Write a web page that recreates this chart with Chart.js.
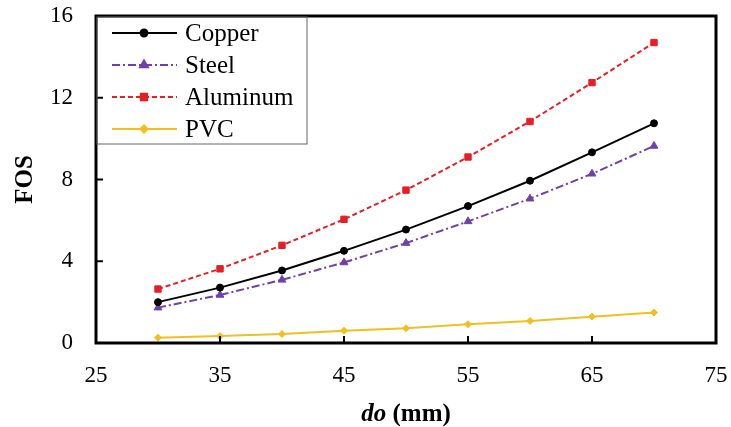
<!DOCTYPE html>
<html>
<head>
<meta charset="utf-8">
<script src="https://cdn.jsdelivr.net/npm/chart.js@4/dist/chart.umd.min.js"></script>
<style>
  body { margin: 0; background: #fff; }
</style>
</head>
<body>
<canvas id="fosChart" width="731" height="427"></canvas>
<script>
// diameter do (mm) and FOS
const diameters = [30, 35, 40, 45, 50, 55, 60, 65, 70];
const copper   = [2.0, 2.71, 3.55, 4.51, 5.55, 6.7, 7.94, 9.33, 10.75];
const steel    = [1.73, 2.35, 3.09, 3.94, 4.89, 5.95, 7.06, 8.28, 9.64];
const aluminum = [2.64, 3.63, 4.78, 6.05, 7.48, 9.1, 10.84, 12.74, 14.7];
const pvc      = [0.26, 0.34, 0.44, 0.6, 0.72, 0.92, 1.08, 1.29, 1.49];
const xTicks = [25, 35, 45, 55, 65, 75];
const yTicks = [0, 4, 8, 12, 16];

const FONT = "'Liberation Serif', 'Times New Roman', serif";

function pts(vals){
  return diameters.map((d, i) => ({ x: d, y: vals[i] }));
}

function series(label, vals, color, style, radius, dash){
  return {
    label, data: pts(vals),
    borderColor: color, backgroundColor: color,
    borderWidth: 2, borderDash: dash,
    pointStyle: style, pointRadius: radius, pointBorderWidth: 1,
    tension: 0
  };
}

// frame + inward tick marks
const framePlugin = {
  id: 'frame',
  afterDatasetsDraw(chart){
    const { ctx, chartArea: a, scales } = chart;
    ctx.save();
    ctx.strokeStyle = '#000';
    ctx.lineWidth = 2;
    xTicks.slice(1, -1).forEach(v => {
      const px = scales.x.getPixelForValue(v);
      ctx.beginPath(); ctx.moveTo(px, a.bottom); ctx.lineTo(px, a.bottom - 7); ctx.stroke();
    });
    yTicks.slice(1, -1).forEach(v => {
      const py = scales.y.getPixelForValue(v);
      ctx.beginPath(); ctx.moveTo(a.left, py); ctx.lineTo(a.left + 7, py); ctx.stroke();
    });
    ctx.lineWidth = 3;
    ctx.strokeRect(a.left, a.top, a.right - a.left, a.bottom - a.top);
    ctx.restore();
  }
};

// boxed legend in the top-left corner of the plot
const legendPlugin = {
  id: 'boxLegend',
  afterDraw(chart){
    const { ctx, chartArea: a } = chart;
    ctx.save();
    ctx.strokeStyle = '#666';
    ctx.lineWidth = 1;
    ctx.strokeRect(a.left + 1, a.top + 1, 210, 127);
    ctx.font = '25px ' + FONT;
    ctx.textBaseline = 'middle';
    ctx.fillStyle = '#000';
    chart.data.datasets.forEach((ds, i) => {
      const y = a.top + 17 + i * 32;
      ctx.strokeStyle = ds.borderColor;
      ctx.lineWidth = 2;
      ctx.setLineDash(ds.borderDash || []);
      ctx.beginPath(); ctx.moveTo(a.left + 16, y); ctx.lineTo(a.left + 81, y); ctx.stroke();
      ctx.setLineDash([]);
      ctx.fillStyle = ds.backgroundColor;
      Chart.helpers.drawPoint(ctx, { pointStyle: ds.pointStyle, radius: ds.pointRadius, borderWidth: 1, rotation: 0 }, a.left + 48, y);
      ctx.fillStyle = '#000';
      ctx.fillText(ds.label, a.left + 89, y + 1);
    });
    ctx.restore();
  }
};

// x axis title with italic "do"
const xTitlePlugin = {
  id: 'xTitle',
  afterDraw(chart){
    const { ctx, chartArea: a } = chart;
    ctx.save();
    ctx.fillStyle = '#000';
    ctx.textBaseline = 'alphabetic';
    const f1 = 'italic bold 25px ' + FONT, f2 = 'bold 25px ' + FONT;
    ctx.font = f1; const w1 = ctx.measureText('do').width;
    ctx.font = f2; const w2 = ctx.measureText(' (mm)').width;
    const x0 = (a.left + a.right) / 2 - (w1 + w2) / 2;
    ctx.font = f1; ctx.fillText('do', x0, 421);
    ctx.font = f2; ctx.fillText(' (mm)', x0 + w1, 421);
    ctx.restore();
  }
};

new Chart(document.getElementById('fosChart'), {
  type: 'line',
  data: {
    datasets: [
      series('Copper', copper, '#000000', 'circle', 3.5, []),
      series('Steel', steel, '#7040a8', 'triangle', 4.5, [8, 3, 2, 3]),
      series('Aluminum', aluminum, '#e61e25', 'rect', 4.5, [5, 3]),
      series('PVC', pvc, '#f0bf22', 'rectRot', 3.5, [])
    ]
  },
  options: {
    responsive: false,
    animation: false,
    layout: { padding: { top: 16, right: 15, left: 0, bottom: 0 } },
    plugins: { legend: { display: false }, tooltip: { enabled: false } },
    scales: {
      x: {
        type: 'linear', min: 25, max: 75,
        afterBuildTicks: s => { s.ticks = xTicks.map(v => ({ value: v })); },
        afterFit: s => { s.height = 84; s.paddingLeft = 0; s.paddingRight = 0; },
        grid: { display: false, drawTicks: false },
        border: { display: false },
        ticks: { color: '#000', padding: 19, font: { family: FONT, size: 23 } }
      },
      y: {
        min: 0, max: 16,
        afterBuildTicks: s => { s.ticks = yTicks.map(v => ({ value: v })); },
        afterFit: s => { s.width = 96; s.paddingTop = 0; s.paddingBottom = 0; },
        grid: { display: false, drawTicks: false },
        border: { display: false },
        title: { display: true, text: 'FOS', color: '#000', padding: { top: 11, bottom: 0 },
                 font: { family: FONT, size: 25, weight: 'bold' } },
        ticks: { color: '#000', padding: 23, font: { family: FONT, size: 23 } }
      }
    }
  },
  plugins: [framePlugin, legendPlugin, xTitlePlugin]
});
</script>
</body>
</html>
